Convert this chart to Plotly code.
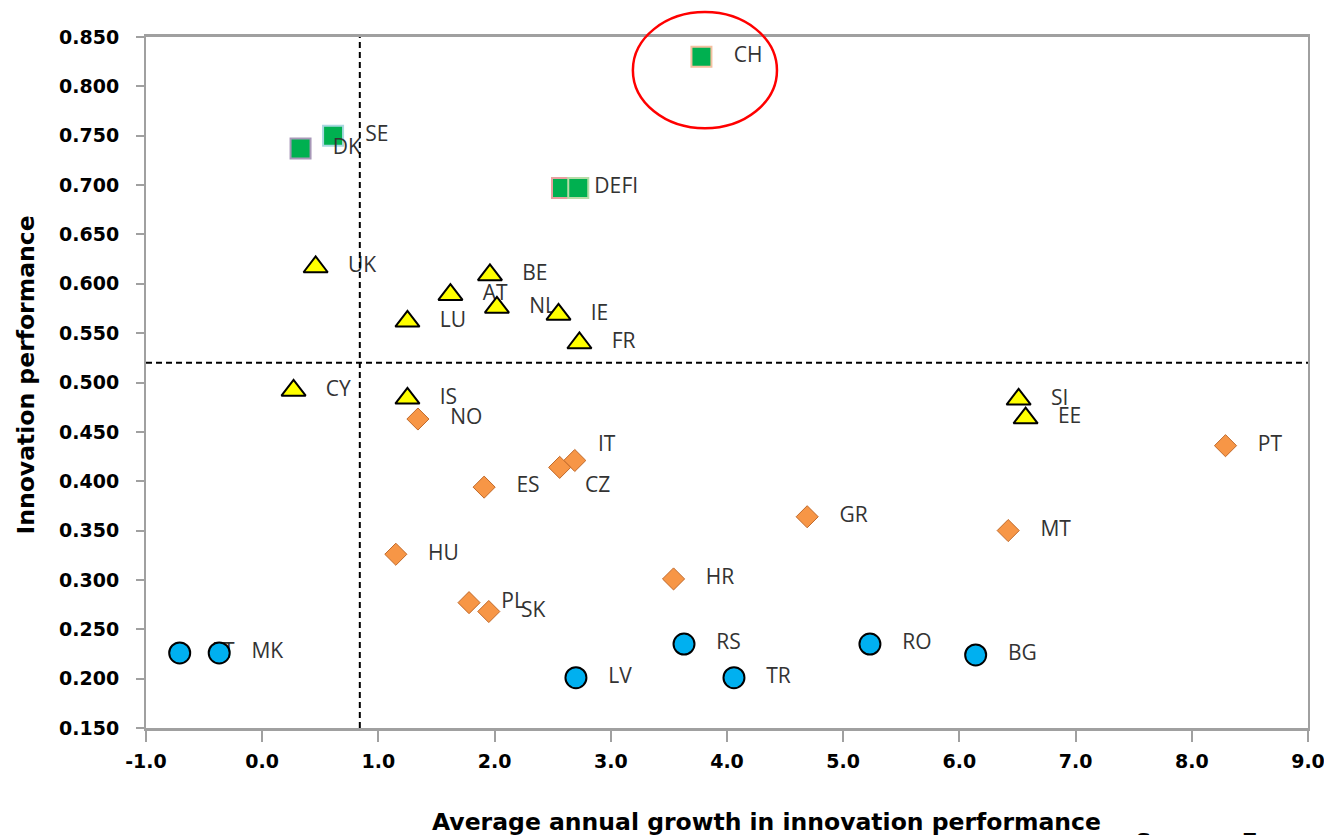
import plotly.graph_objects as go

# Leaders (green squares)
lead_names = ["CH", "SE", "DK", "DE", "FI"]
lead_growth = [3.78, 0.61, 0.33, 2.58, 2.72]
lead_perf = [0.830, 0.750, 0.737, 0.697, 0.697]
lead_edge = ["#F4C0A0", "#A8D8E0", "#A898B8", "#E8A0A0", "#B8DCA8"]

# Followers (yellow triangles)
fol_names = ["UK", "BE", "AT", "NL", "IE", "LU", "FR", "CY", "IS", "SI", "EE"]
fol_growth = [0.46, 1.96, 1.62, 2.02, 2.55, 1.25, 2.73, 0.27, 1.25, 6.51, 6.57]
fol_perf = [0.617, 0.609, 0.589, 0.576, 0.569, 0.562, 0.540, 0.492, 0.484, 0.483, 0.464]

# Moderate innovators (orange diamonds)
mod_names = ["NO", "IT", "CZ", "ES", "PT", "GR", "MT", "HU", "HR", "PL", "SK"]
mod_growth = [1.34, 2.69, 2.56, 1.91, 8.29, 4.69, 6.42, 1.15, 3.54, 1.78, 1.95]
mod_perf = [0.463, 0.421, 0.414, 0.394, 0.436, 0.364, 0.350, 0.326, 0.301, 0.277, 0.268]

# Modest innovators (blue circles)
mst_names = ["LT", "MK", "RS", "RO", "BG", "LV", "TR"]
mst_growth = [-0.71, -0.37, 3.63, 5.23, 6.14, 2.70, 4.06]
mst_perf = [0.226, 0.226, 0.235, 0.235, 0.224, 0.201, 0.201]

# Averages (dashed reference lines)
avg_growth = 0.84
avg_perf = 0.520

x_ticks = [-1, 0, 1, 2, 3, 4, 5, 6, 7, 8, 9]
y_range = [0.150, 0.850]

# labels that were dragged off their default spot in the original (px shifts)
label_nudge = {"IT": (21, 17), "CZ": (23, -17)}

label_font = dict(family="Open Sans", size=21, color="#333333")

fig = go.Figure()

fig.add_trace(go.Scatter(
    x=lead_growth, y=lead_perf, mode="markers",
    marker=dict(symbol="square", size=20, color="#00B050",
                line=dict(color=lead_edge, width=2)),
    showlegend=False,
))

# labels sit under the later series, as in the original
all_names = lead_names + fol_names + mod_names + mst_names
all_x = lead_growth + fol_growth + mod_growth + mst_growth
all_y = lead_perf + fol_perf + mod_perf + mst_perf
# DE and FI labels run together ("DEFI") in the original
label_text = []
for n in all_names:
    if n in label_nudge:
        label_text.append("")
    elif n == "FI":
        label_text.append("\u00a0\u00a0" + n)
    else:
        label_text.append(n)

fig.add_trace(go.Scatter(
    x=all_x, y=all_y, mode="markers+text", text=label_text,
    textposition="middle right",
    textfont=label_font,
    marker=dict(size=50, opacity=0),
    showlegend=False, hoverinfo="skip",
))

fig.add_trace(go.Scatter(
    x=fol_growth, y=fol_perf, mode="markers",
    marker=dict(symbol="triangle-up", size=21, color="#FFFF00",
                line=dict(color="#000000", width=2)),
    showlegend=False,
))
fig.add_trace(go.Scatter(
    x=mod_growth, y=mod_perf, mode="markers",
    marker=dict(symbol="diamond", size=17, color="#F79646",
                line=dict(color="#C0692A", width=1)),
    showlegend=False,
))
fig.add_trace(go.Scatter(
    x=mst_growth, y=mst_perf, mode="markers",
    marker=dict(symbol="circle", size=21, color="#00B0F0",
                line=dict(color="#000000", width=2)),
    showlegend=False,
))

for n, gx, py in zip(all_names, all_x, all_y):
    if n in label_nudge:
        dx, dy = label_nudge[n]
        fig.add_annotation(
            x=gx, y=py, xshift=dx, yshift=dy, xanchor="left", yanchor="middle",
            text=n, showarrow=False, font=label_font,
        )

# average lines
fig.add_shape(type="line", xref="x", yref="paper", x0=avg_growth, x1=avg_growth,
              y0=0, y1=1, line=dict(color="#000000", width=2, dash="6px,4px"))
fig.add_shape(type="line", xref="paper", yref="y", x0=0, x1=1,
              y0=avg_perf, y1=avg_perf, line=dict(color="#000000", width=2, dash="6px,4px"))

# red highlight round CH
fig.add_shape(type="circle", xref="x", yref="paper",
              x0=3.19, x1=4.43, y0=0.868, y1=1.036,
              line=dict(color="#FF0000", width=2.5))

axis_font = dict(family="DejaVu Sans", size=19, color="#000000", weight="bold")
title_font = dict(family="DejaVu Sans", size=23.5, color="#000000", weight="bold")

fig.update_xaxes(
    range=[x_ticks[0], x_ticks[-1]],
    tickmode="array", tickvals=x_ticks, ticktext=[f"{v:.1f}" for v in x_ticks],
    showgrid=False, zeroline=False, automargin=False,
    showline=True, linecolor="#A0A0A0", linewidth=3, mirror=True,
    ticks="outside", ticklen=11, tickcolor="#A0A0A0", tickwidth=2,
    ticklabelstandoff=3, ticklabeloverflow="allow",
    tickfont=axis_font,
)
fig.update_yaxes(
    range=y_range, dtick=0.05, tick0=0.15, tickformat=".3f",
    showgrid=False, zeroline=False, automargin=False,
    showline=True, linecolor="#A0A0A0", linewidth=2, mirror=True,
    ticks="outside", ticklen=8, tickcolor="#A0A0A0", tickwidth=2,
    ticklabelstandoff=13,
    tickfont=axis_font,
)

fig.add_annotation(
    xref="paper", yref="paper", x=0.534, y=-0.136,
    xanchor="center", yanchor="middle", showarrow=False,
    text="Average annual growth in innovation performance", font=title_font,
)
fig.add_annotation(
    xref="paper", yref="paper", x=0, xshift=-121, y=0.5, yshift=7,
    xanchor="center", yanchor="middle", showarrow=False, textangle=-90,
    text="Innovation performance", font=title_font,
)
fig.add_annotation(
    xref="paper", yref="paper", x=0.849, y=-0.143,
    xanchor="left", yanchor="top", showarrow=False,
    text="Source: European Innovation Scoreboard",
    font=dict(family="DejaVu Sans", size=26, color="#000000"),
)

fig.update_layout(
    width=1324, height=835,
    margin=dict(l=146, r=16, t=37, b=107),
    plot_bgcolor="white", paper_bgcolor="white",
    showlegend=False,
)

# drop the page's default 8px body margin so the figure fills the window
fig.write_html(
    "out.html",
    config={"displayModeBar": False},
    post_script="document.body.style.margin='0';",
)
